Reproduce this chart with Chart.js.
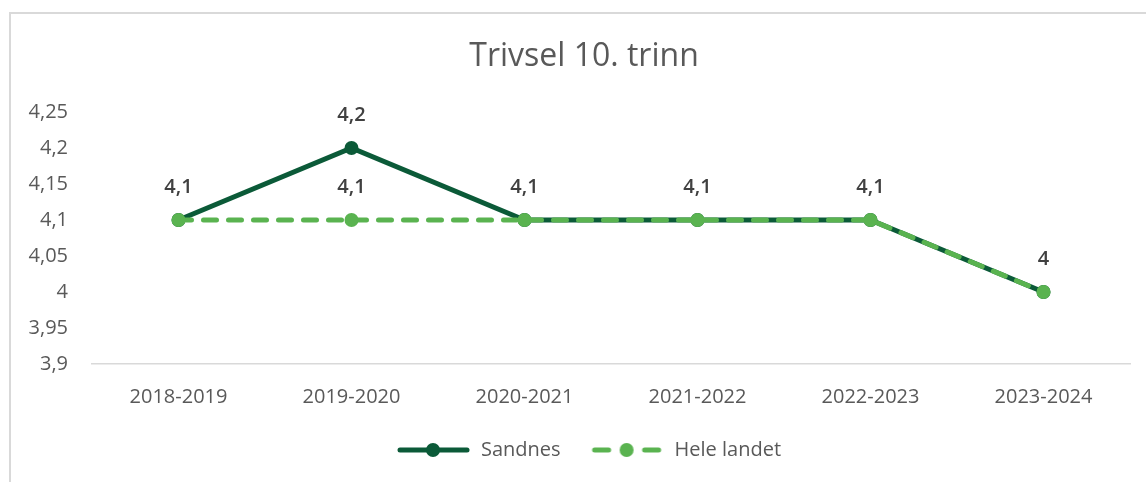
<!DOCTYPE html>
<html>
<head>
<meta charset="utf-8">
<script src="https://cdn.jsdelivr.net/npm/chart.js@4"></script>
<style>
  html, body { margin: 0; padding: 0; background: #fff; overflow: hidden; }
  #wrap { position: absolute; left: 0; top: 0; width: 1168px; height: 482px; }
  #frame { position: absolute; left: 9px; top: 12px; width: 1200px; height: 520px;
           border: 2px solid #d9d9d9; box-sizing: border-box; }
</style>
</head>
<body>
<div id="frame"></div>
<div id="wrap"><canvas id="chart"></canvas></div>
<script>
const categories = ['2018-2019', '2019-2020', '2020-2021', '2021-2022', '2022-2023', '2023-2024'];
const sandnes = [4.1, 4.2, 4.1, 4.1, 4.1, 4.0];
const heleLandet = [4.1, 4.1, 4.1, 4.1, 4.1, 4.0];
const yMin = 3.9;
const yMax = 4.25;
const yStep = 0.05;

const darkGreen = '#0b5a38';
const lightGreen = '#5ab350';

function fmt(v) {
    return String(+v.toFixed(2)).replace('.', ',');
}

// little line + dot picture used as the legend marker
function legendSample(color, dashed) {
    const c = document.createElement('canvas');
    c.width = 84; c.height = 16;
    const g = c.getContext('2d');
    g.strokeStyle = color;
    g.lineWidth = 5;
    g.lineCap = 'round';
    g.beginPath();
    if (dashed) {
        g.moveTo(14, 8); g.lineTo(28, 8);
        g.moveTo(64, 8); g.lineTo(78, 8);
    } else {
        g.moveTo(13, 8); g.lineTo(80, 8);
    }
    g.stroke();
    g.fillStyle = color;
    g.beginPath();
    g.arc(46, 8, 7, 0, Math.PI * 2);
    g.fill();
    return c;
}

const samples = [legendSample(darkGreen, false), legendSample(lightGreen, true)];

const valueLabels = {
    id: 'valueLabels',
    afterDatasetsDraw(chart) {
        const ctx = chart.ctx;
        ctx.save();
        ctx.font = "600 20px 'Open Sans', sans-serif";
        ctx.fillStyle = '#404040';
        ctx.textAlign = 'center';
        ctx.textBaseline = 'middle';
        chart.data.datasets.forEach((ds, i) => {
            const meta = chart.getDatasetMeta(i);
            meta.data.forEach((pt, j) => {
                // second series only labelled where it differs from the first
                if (i === 1 && ds.data[j] === chart.data.datasets[0].data[j]) return;
                ctx.fillText(fmt(ds.data[j]), pt.x, pt.y - 33);
            });
        });
        ctx.restore();
    }
};

Chart.defaults.font.family = "'Open Sans', sans-serif";
Chart.defaults.font.size = 20;
Chart.defaults.color = '#595959';

new Chart(document.getElementById('chart'), {
    type: 'line',
    data: {
        labels: categories,
        datasets: [{
            label: 'Sandnes',
            data: sandnes,
            borderColor: darkGreen,
            backgroundColor: darkGreen,
            borderWidth: 5,
            pointRadius: 7,
            pointHoverRadius: 7,
            pointBorderWidth: 0,
            tension: 0,
            order: 1
        }, {
            label: 'Hele landet',
            data: heleLandet,
            borderColor: lightGreen,
            backgroundColor: lightGreen,
            borderWidth: 5,
            borderDash: [13, 12],
            borderCapStyle: 'round',
            pointRadius: 7,
            pointHoverRadius: 7,
            pointBorderWidth: 0,
            tension: 0,
            order: 0
        }]
    },
    options: {
        responsive: true,
        maintainAspectRatio: false,
        animation: false,
        layout: { padding: { top: 0, bottom: 12, left: 0, right: 0 } },
        plugins: {
            title: {
                display: true,
                text: 'Trivsel 10. trinn',
                color: '#595959',
                font: { size: 32, weight: 'normal' },
                padding: { top: 38, bottom: 35.6 }
            },
            legend: {
                position: 'bottom',
                labels: {
                    usePointStyle: true,
                    pointStyleWidth: 84,
                    padding: 20,
                    color: '#595959',
                    generateLabels: chart => chart.data.datasets.map((ds, i) => ({
                        text: ds.label,
                        pointStyle: samples[i],
                        fontColor: '#595959',
                        datasetIndex: i,
                        hidden: false,
                        lineWidth: 0,
                        strokeStyle: 'transparent',
                        fillStyle: 'transparent'
                    }))
                }
            },
            tooltip: { enabled: false }
        },
        scales: {
            x: {
                offset: true,
                grid: { display: false, drawTicks: false },
                border: { display: true, color: '#d9d9d9', width: 1.5 },
                ticks: { padding: 21, color: '#595959' },
                afterFit: s => { s.height = 56; }
            },
            y: {
                min: yMin,
                max: yMax,
                grid: { display: false, drawTicks: false },
                border: { display: false },
                ticks: {
                    stepSize: yStep,
                    padding: 24,
                    color: '#595959',
                    callback: v => fmt(v)
                },
                afterFit: s => { s.width = 92; }
            },
            // empty right-hand axis, only reserves room so title and legend stay centred on the frame
            pad: {
                type: 'linear',
                position: 'right',
                grid: { display: false, drawTicks: false },
                border: { display: false },
                ticks: { display: false },
                afterFit: s => { s.width = 38; }
            }
        }
    },
    plugins: [valueLabels]
});
</script>
</body>
</html>
